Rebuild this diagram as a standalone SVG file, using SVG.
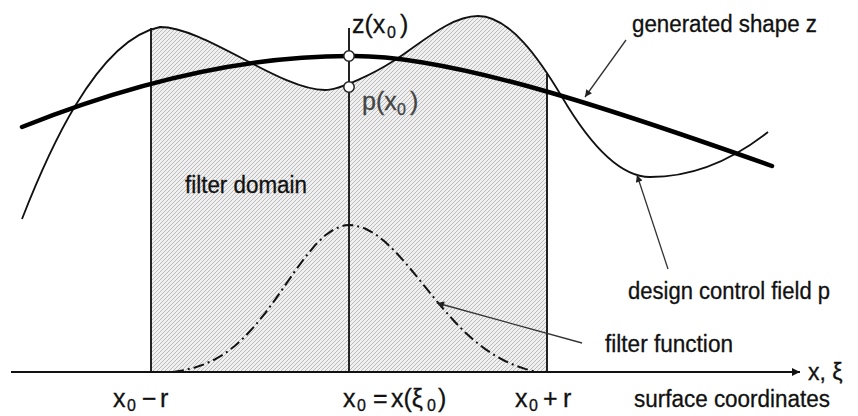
<svg xmlns="http://www.w3.org/2000/svg" width="858" height="416" viewBox="0 0 858 416">
<style>
text{font-family:"Liberation Sans",Arial,sans-serif;font-size:23px;fill:#111;stroke:#111;stroke-width:0.3}
.m{font-size:25px}
.sub{font-size:16px}
.thin{fill:none;stroke:#111;stroke-width:1.8}
.thick{fill:none;stroke:#000;stroke-width:4.5;stroke-linecap:round}
.vl{stroke:#222;stroke-width:2}
.ptr{stroke:#333;stroke-width:1.3;fill:none;marker-end:url(#ah)}
</style>
<defs>
<pattern id="hatch" patternUnits="userSpaceOnUse" width="4" height="4">
<rect width="4" height="4" fill="#f0f0f0"/>
<path d="M-1,1 l2,-2 M0,4 l4,-4 M3,5 l2,-2" stroke="#adadad" stroke-width="0.8"/>
</pattern>
<clipPath id="dom"><rect x="151" y="0" width="396" height="372"/></clipPath>
<marker id="ah" viewBox="0 0 10 10" refX="10" refY="5" markerWidth="15" markerHeight="7" markerUnits="userSpaceOnUse" orient="auto"><path d="M0,0 L10,5 L0,10 z" fill="#222"/></marker>
<marker id="axa" viewBox="0 0 10 10" refX="10" refY="5" markerWidth="18" markerHeight="8" markerUnits="userSpaceOnUse" orient="auto"><path d="M0,0 L10,5 L0,10 z" fill="#111"/></marker>
</defs>

<g id="filter-domain">
<path clip-path="url(#dom)" fill="url(#hatch)" d="M22,219 C45,160 95,40 160,27 C205,27 280,90 325,90 C340,90 375,73 395,60 C420,44 450,16 478,16 C510,16 540,60 562,97 C582,131 615,177 650,177 C695,177 735,158 768,132 L768,372 L22,372 Z"/>
<line class="vl" x1="151" y1="28" x2="151" y2="372"/>
<line class="vl" x1="547" y1="74" x2="547" y2="372"/>
<line class="vl" x1="349" y1="28" x2="349" y2="372"/>
</g>

<g id="filter-function">
<path fill="none" stroke="#111" stroke-width="2" stroke-dasharray="11,4,2,4" d="M173,372 L185,370 L195,367.5 L205,364 L215,359.4 L225,353.4 L235,345.8 L245,336.6 L255,325.7 L265,313.4 L275,299.8 L285,285.5 L295,271.1 L305,257.5 L315,245.3 L325,235.5 L335,228.7 L345,225.3 L349,225 L355,225.5 L365,228.5 L375,233.9 L385,241.7 L395,251.3 L405,262.4 L415,274.3 L425,286.7 L435,299 L445,310.9 L455,322 L465,332.2 L475,341.2 L485,348.9 L495,355.5 L505,361 L515,365.4 L525,368.9 L537,372"/>
</g>

<g id="design-control-field">
<path class="thin" d="M22,219 C45,160 95,40 160,27 C205,27 280,90 325,90 C340,90 375,73 395,60 C420,44 450,16 478,16 C510,16 540,60 562,97 C582,131 615,177 650,177 C695,177 735,158 768,132"/>
</g>

<g id="generated-shape">
<path class="thick" d="M22,127 C150,76 260,56 349,56 C450,54 620,112 772,166"/>
</g>

<g id="axis">
<line x1="11" y1="372" x2="800" y2="372" stroke="#111" stroke-width="2" marker-end="url(#axa)"/>
</g>

<g id="points">
<circle cx="349" cy="56" r="5.2" fill="#fff" stroke="#222" stroke-width="1.5"/>
<circle cx="349" cy="87" r="5.2" fill="#fff" stroke="#222" stroke-width="1.5"/>
</g>

<g id="connectors">
<line class="ptr" x1="626" y1="40" x2="585" y2="97"/>
<line class="ptr" x1="668" y1="269" x2="637" y2="175"/>
<line class="ptr" x1="582" y1="343" x2="437" y2="303"/>
</g>

<g id="labels">
<text class="m" x="352" y="33">z(x<tspan class="sub" x="387" dy="5">0</tspan><tspan x="400" dy="-5">)</tspan></text>
<text class="m" x="362" y="110" style="fill:#444;stroke:#444">p(x<tspan class="sub" x="397" dy="5">0</tspan><tspan x="410" dy="-5">)</tspan></text>
<text x="185" y="193" textLength="122" lengthAdjust="spacingAndGlyphs">filter domain</text>
<text x="632" y="32" textLength="185" lengthAdjust="spacingAndGlyphs">generated shape z</text>
<text x="628" y="299" textLength="202" lengthAdjust="spacingAndGlyphs">design control field p</text>
<text x="605" y="352" textLength="128" lengthAdjust="spacingAndGlyphs">filter function</text>
<text x="808" y="380">x, ξ</text>
<text x="634" y="407" textLength="196" lengthAdjust="spacingAndGlyphs">surface coordinates</text>
<text class="m" x="113" y="407">x<tspan class="sub" x="127" dy="4">0</tspan><tspan x="142" dy="-4">−</tspan><tspan x="160">r</tspan></text>
<text class="m" x="343" y="407">x<tspan class="sub" x="357" dy="4">0</tspan><tspan x="373" dy="-4">=</tspan><tspan x="391">x(ξ</tspan><tspan class="sub" x="427" dy="4">0</tspan><tspan x="438" dy="-4">)</tspan></text>
<text class="m" x="515" y="407">x<tspan class="sub" x="529" dy="4">0</tspan><tspan x="543" dy="-4">+</tspan><tspan x="563">r</tspan></text>
</g>
</svg>
